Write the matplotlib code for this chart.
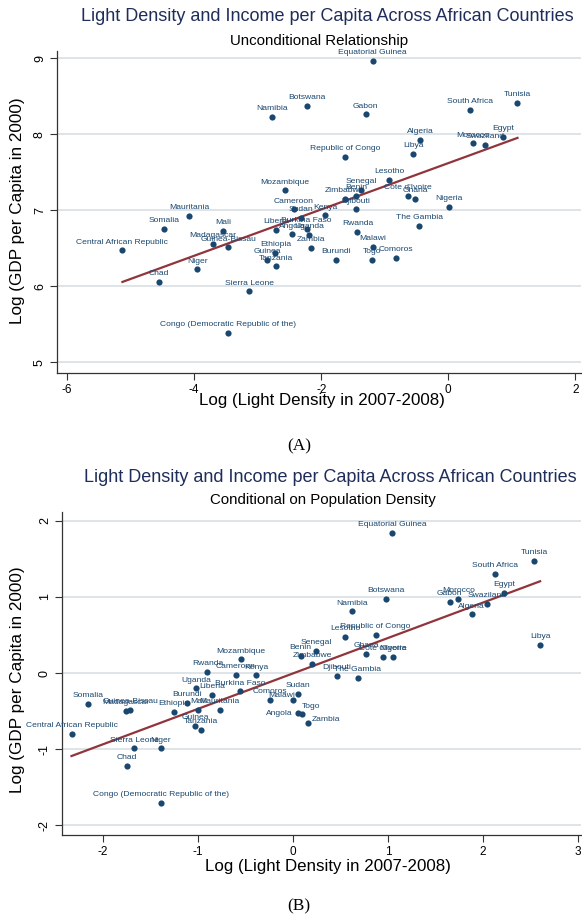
import numpy as np
import matplotlib
matplotlib.use("Agg")
import matplotlib.pyplot as plt

# Country order shared by both panels
countries = [
    "Equatorial Guinea", "Botswana", "Namibia", "Gabon", "South Africa", "Tunisia",
    "Algeria", "Libya", "Morocco", "Swaziland", "Egypt", "Republic of Congo",
    "Lesotho", "Mozambique", "Senegal", "Benin", "Zimbabwe", "Djibouti",
    "Cote d'Ivoire", "Ghana", "Nigeria", "Cameroon", "Kenya", "Sudan",
    "Mauritania", "Somalia", "Mali", "Central African Republic", "Madagascar",
    "Guinea-Bissau", "Liberia", "Burkina Faso", "Angola", "Uganda", "Zambia",
    "Ethiopia", "Guinea", "Tanzania", "Rwanda", "The Gambia", "Malawi",
    "Burundi", "Togo", "Comoros", "Chad", "Niger", "Sierra Leone",
    "Congo (Democratic Republic of the)",
]

# Panel A: unconditional
light_a = [-1.19, -2.23, -2.78, -1.30, 0.35, 1.09,
           -0.44, -0.55, 0.39, 0.58, 0.86, -1.63,
           -0.93, -2.57, -1.37, -1.45, -1.63, -1.45,
           -0.64, -0.52, 0.01, -2.43, -1.94, -2.32,
           -4.08, -4.48, -3.55, -5.13, -3.71,
           -3.46, -2.71, -2.23, -2.46, -2.19, -2.16,
           -2.72, -2.85, -2.71, -1.43, -0.46, -1.19,
           -1.77, -1.20, -0.82, -4.55, -3.95, -3.13,
           -3.47]
gdp_a = [8.97, 8.37, 8.23, 8.26, 8.32, 8.41,
         7.93, 7.74, 7.88, 7.86, 7.97, 7.70,
         7.40, 7.26, 7.27, 7.19, 7.15, 7.01,
         7.19, 7.15, 7.04, 7.01, 6.93, 6.90,
         6.92, 6.75, 6.73, 6.47, 6.56,
         6.51, 6.74, 6.75, 6.68, 6.67, 6.50,
         6.44, 6.35, 6.26, 6.71, 6.79, 6.52,
         6.35, 6.35, 6.37, 6.05, 6.22, 5.93,
         5.38]

# Panel B: conditional on population density (residuals)
light_b = [1.04, 0.98, 0.62, 1.65, 2.12, 2.54,
           1.88, 2.60, 1.74, 2.04, 2.22, 0.87,
           0.55, -0.55, 0.24, 0.08, 0.20, 0.46,
           0.95, 0.77, 1.05, -0.60, -0.39, 0.05,
           -0.77, -2.16, -1.00, -2.33, -1.76,
           -1.71, -0.85, -0.56, 0.05, -1.02, 0.16,
           -1.25, -1.03, -0.97, -0.90, 0.68, 0.005,
           -1.11, 0.10, -0.24, -1.75, -1.39, -1.67,
           -1.39]
gdp_b = [1.84, 0.98, 0.81, 0.94, 1.30, 1.47,
         0.77, 0.37, 0.97, 0.91, 1.05, 0.50,
         0.47, 0.18, 0.29, 0.23, 0.12, -0.04,
         0.21, 0.25, 0.21, -0.02, -0.03, -0.27,
         -0.48, -0.40, -0.48, -0.80, -0.50,
         -0.48, -0.29, -0.24, -0.53, -0.20, -0.66,
         -0.51, -0.69, -0.75, 0.02, -0.06, -0.35,
         -0.39, -0.54, -0.35, -1.22, -0.99, -0.99,
         -1.71]

W, H = 582, 918
NAVY = "#1a476f"
MAROON = "#90353b"
TITLE_COL = "#1f2d5a"
GRID = "#dce2e7"

plt.rcParams["font.family"] = ["Liberation Sans", "DejaVu Sans"]

fig = plt.figure(figsize=(W / 100, H / 100), dpi=100)


def px_axes(left, right, top, bottom):
    return fig.add_axes([left / W, 1 - bottom / H, (right - left) / W, (bottom - top) / H])


def draw_panel(ax, x, y, xlim, ylim, xticks, yticks, label_pos):
    x = np.array(x)
    y = np.array(y)
    ax.set_xlim(*xlim)
    ax.set_ylim(*ylim)
    ax.set_xticks(xticks)
    ax.set_yticks(yticks)
    ax.set_xticklabels([str(t) for t in xticks], fontsize=8.5)
    ax.set_yticklabels([str(t) for t in yticks], fontsize=9, rotation=90, va="center")
    ax.tick_params(length=5, width=0.8, color="#333333", pad=3)
    for side in ["top", "right"]:
        ax.spines[side].set_visible(False)
    for side in ["left", "bottom"]:
        ax.spines[side].set_color("#333333")
        ax.spines[side].set_linewidth(0.9)
    ax.grid(axis="y", color=GRID, linewidth=1.3)
    ax.set_axisbelow(True)

    ax.scatter(x, y, s=20, color=NAVY, zorder=3, linewidths=0)
    for name, xi, yi in zip(countries, x, y):
        dx, dy, ha = label_pos.get(name, (0, 6, "center"))
        ax.annotate(name, (xi, yi), xytext=(dx, dy), textcoords="offset points",
                    ha=ha, va="center", fontsize=6.1, color=NAVY, zorder=4)

    # linear fit
    b, a = np.polyfit(x, y, 1)
    xs = np.array([x.min(), x.max()])
    ax.plot(xs, a + b * xs, color=MAROON, linewidth=1.6, zorder=2)


TITLE = "Light Density and Income per Capita Across African Countries"
XLAB = "Log (Light Density in 2007-2008)"
YLAB = "Log (GDP per Capita in 2000)"

# ---- Panel A ----
ax1 = px_axes(57, 581, 50.7, 372.7)
draw_panel(ax1, light_a, gdp_a, (-6.16, 2.09), (4.86, 9.1), [-6, -4, -2, 0, 2], [5, 6, 7, 8, 9], {})
fig.text(327 / W, 1 - 16.5 / H, TITLE, ha="center", va="center", fontsize=13, color=TITLE_COL)
fig.text(319 / W, 1 - 40.5 / H, "Unconditional Relationship", ha="center", va="center", fontsize=10.8, color="black")
fig.text(322 / W, 1 - 400 / H, XLAB, ha="center", va="center", fontsize=12.2)
fig.text(18 / W, 1 - 211 / H, YLAB, ha="center", va="center", rotation=90, fontsize=12.3)
fig.text(299 / W, 1 - 446 / H, "(A)", ha="center", va="center", fontsize=12.5, family="Liberation Serif")

# ---- Panel B ----
label_pos_b = {
    "Angola": (-3.5, 0, "right"),
    "Zambia": (2.5, 2.5, "left"),
    "Togo": (-0.5, 5.5, "left"),
    "Malawi": (1.5, 3.2, "right"),
}
ax2 = px_axes(62, 581, 511.7, 835.3)
draw_panel(ax2, light_b, gdp_b, (-2.43, 3.03), (-2.13, 2.12), [-2, -1, 0, 1, 2, 3], [-2, -1, 0, 1, 2], label_pos_b)
fig.text(330 / W, 1 - 477 / H, TITLE, ha="center", va="center", fontsize=13, color=TITLE_COL)
fig.text(323 / W, 1 - 500 / H, "Conditional on Population Density", ha="center", va="center", fontsize=10.8, color="black")
fig.text(328 / W, 1 - 867 / H, XLAB, ha="center", va="center", fontsize=12.2)
fig.text(18 / W, 1 - 680 / H, YLAB, ha="center", va="center", rotation=90, fontsize=12.3)
fig.text(299 / W, 1 - 906 / H, "(B)", ha="center", va="center", fontsize=12.5, family="Liberation Serif")

fig.savefig("out.png", dpi=100)
